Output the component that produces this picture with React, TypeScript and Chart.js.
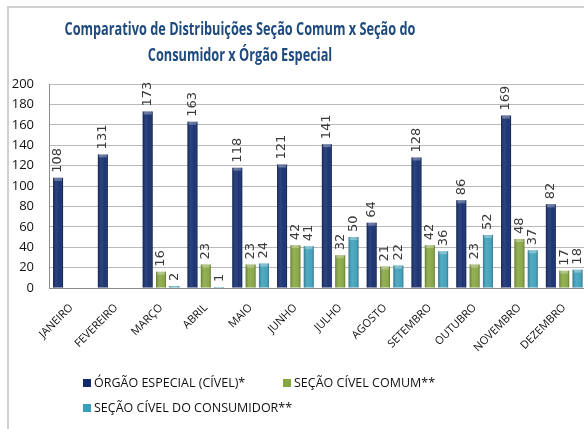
import React, { useEffect, useRef } from "react";
import { Chart, registerables } from "chart.js";

Chart.register(...registerables);

const titleLines = ["Comparativo de Distribuições Seção Comum x Seção do", "Consumidor x Órgão Especial"];
const months = ["JANEIRO", "FEVEREIRO", "MARÇO", "ABRIL", "MAIO", "JUNHO", "JULHO", "AGOSTO", "SETEMBRO", "OUTUBRO", "NOVEMBRO", "DEZEMBRO"];
const orgaoEspecial = [108, 131, 173, 163, 118, 121, 141, 64, 128, 86, 169, 82];
const secaoComum = [null, null, 16, 23, 23, 42, 32, 21, 42, 23, 48, 17];
const secaoConsumidor = [null, null, 2, 1, 24, 41, 50, 22, 36, 52, 37, 18];
const seriesNames = ["ÓRGÃO ESPECIAL (CÍVEL)*", "SEÇÃO CÍVEL COMUM**", "SEÇÃO CÍVEL DO CONSUMIDOR**"];
const seriesColors = ["#102a6c", "#86a63f", "#3c9fba"];

const W = 600;
const H = 429;

const titlePlugin = {
  id: "customTitle",
  afterDraw(chart: any) {
    const ctx = chart.ctx;
    ctx.save();
    ctx.font = "bold 17px 'Open Sans'";
    ctx.fillStyle = "#1f4a7e";
    ctx.textBaseline = "middle";
    ctx.textAlign = "center";
    const w1 = ctx.measureText(titleLines[0]).width;
    const sx = 351 / w1;
    const cx = 240;
    const ys = [30, 56];
    titleLines.forEach((t, i) => {
      ctx.save();
      ctx.translate(cx, ys[i]);
      ctx.scale(sx, 1);
      ctx.fillText(t, 0, 0);
      ctx.restore();
    });
    ctx.restore();
  },
};

const xLabelPlugin = {
  id: "xLabels",
  afterDraw(chart: any) {
    const ctx = chart.ctx;
    const xs = chart.scales.x;
    const bottom = chart.chartArea.bottom;
    ctx.save();
    ctx.font = "11px 'Open Sans'";
    ctx.fillStyle = "#111";
    ctx.textAlign = "right";
    ctx.textBaseline = "middle";
    chart.data.labels.forEach((lab: string, i: number) => {
      const x = xs.getPixelForTick(i);
      ctx.save();
      ctx.translate(x, bottom + 18);
      ctx.rotate(-Math.PI / 4);
      ctx.fillText(lab, 0, 0);
      ctx.restore();
    });
    ctx.restore();
  },
};

const barStylePlugin = {
  id: "barStyle",
  afterDatasetsDraw(chart: any) {
    const ctx = chart.ctx;
    ctx.save();
    chart.data.datasets.forEach((ds: any, di: number) => {
      const meta = chart.getDatasetMeta(di);
      meta.data.forEach((bar: any, i: number) => {
        const v = ds.data[i];
        if (v === null || v === undefined) return;
        const { x, y, base, width } = bar.getProps(["x", "y", "base", "width"], true);
        const l = x - width / 2;
        const g = ctx.createLinearGradient(l, 0, l + width, 0);
        g.addColorStop(0, "rgba(0,0,0,0.25)");
        g.addColorStop(0.35, "rgba(255,255,255,0.12)");
        g.addColorStop(0.7, "rgba(255,255,255,0.05)");
        g.addColorStop(1, "rgba(0,0,0,0.3)");
        ctx.fillStyle = g;
        ctx.fillRect(l, y, width, base - y);
        const h = Math.min(3, base - y);
        ctx.fillStyle = "rgba(255,255,255,0.3)";
        ctx.fillRect(l + 1, y, width - 2, h);
      });
    });
    ctx.restore();
  },
};

const dataLabelPlugin = {
  id: "rotLabels",
  afterDatasetsDraw(chart: any) {
    const ctx = chart.ctx;
    ctx.save();
    ctx.font = "13px 'DejaVu Sans'";
    ctx.fillStyle = "#3a3a3a";
    ctx.textAlign = "left";
    ctx.textBaseline = "middle";
    chart.data.datasets.forEach((ds: any, di: number) => {
      const meta = chart.getDatasetMeta(di);
      meta.data.forEach((bar: any, i: number) => {
        const v = ds.data[i];
        if (v === null || v === undefined) return;
        const { x, y } = bar.getProps(["x", "y"], true);
        ctx.save();
        ctx.translate(x, y - 5);
        ctx.rotate(-Math.PI / 2);
        ctx.fillText(String(v), 0, 0);
        ctx.restore();
      });
    });
    ctx.restore();
  },
};

export default function App() {
  const ref = useRef<HTMLCanvasElement | null>(null);

  useEffect(() => {
    document.body.style.margin = "0";
    document.body.style.overflow = "hidden";
    const canvas = ref.current;
    if (!canvas) return;
    const data = [orgaoEspecial, secaoComum, secaoConsumidor];
    const chart = new Chart(canvas, {
      type: "bar",
      data: {
        labels: months,
        datasets: data.map((d, i) => ({
          label: seriesNames[i],
          data: d as any,
          backgroundColor: seriesColors[i],
          borderWidth: 0,
          categoryPercentage: 0.893,
          barPercentage: 0.75,
        })),
      },
      options: {
        responsive: false,
        animation: false,
        layout: { padding: { top: 84, right: 13.4, left: 0, bottom: 0 } },
        plugins: {
          legend: { display: false },
          title: { display: false },
          tooltip: { enabled: false },
        },
        scales: {
          x: {
            grid: { display: false, drawTicks: false },
            border: { display: true, color: "#8c8c8c", width: 1 },
            ticks: { display: false },
            afterFit: (s: any) => {
              s.height = H - 288;
            },
          },
          y: {
            min: 0,
            max: 200,
            ticks: {
              stepSize: 20,
              font: { family: "'Open Sans'", size: 13 },
              color: "#111",
              padding: 15,
            },
            grid: { color: "#b9b9b9", lineWidth: 1, drawTicks: false },
            border: { display: true, color: "#8c8c8c", width: 1 },
            afterFit: (s: any) => {
              s.width = 49;
            },
          },
        },
      },
      plugins: [titlePlugin, barStylePlugin, dataLabelPlugin, xLabelPlugin],
    });
    return () => chart.destroy();
  }, []);

  const legendItem = (i: number, width: number) => (
    <div key={i} style={{ display: "flex", alignItems: "center", width }}>
      <span
        style={{
          display: "inline-block",
          width: 8,
          height: 8,
          background: seriesColors[i],
          marginRight: 3,
        }}
      />
      <span>{seriesNames[i]}</span>
    </div>
  );

  return (
    <div style={{ position: "relative", width: 584, height: 429, overflow: "hidden", background: "#fff" }}>
      <div
        style={{
          position: "absolute",
          left: 7,
          top: 6,
          width: 600,
          height: 430,
          borderTop: "2px solid #d0d0d0",
          borderLeft: "2px solid #d0d0d0",
          boxSizing: "border-box",
        }}
      />
      <canvas ref={ref} width={W} height={H} style={{ position: "absolute", left: 0, top: 0 }} />
      <div
        style={{
          position: "absolute",
          left: 83,
          top: 374,
          width: 420,
          fontFamily: "'Open Sans'",
          fontSize: 12.5,
          color: "#111",
          lineHeight: "18px",
        }}
      >
        <div style={{ display: "flex" }}>
          {legendItem(0, 200)}
          {legendItem(1, 200)}
        </div>
        <div style={{ display: "flex", marginTop: 7 }}>{legendItem(2, 300)}</div>
      </div>
    </div>
  );
}
